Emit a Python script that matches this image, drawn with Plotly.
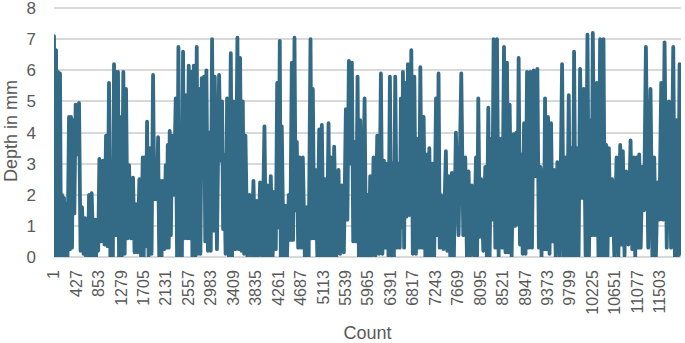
import plotly.graph_objects as go

peak_count = [1,40,77,115,153,191,229,286,324,362,412,476,533,590,628,666,716,780,818,862,931,988,1045,1096,1140,1178,1216,1254,1317,1368,1425,1501,1558,1621,1685,1723,1767,1824,1881,1925,1976,2020,2064,2121,2159,2197,2241,2311,2362,2406,2450,2495,2558,2602,2653,2710,2754,2805,2849,2893,2950,3001,3052,3134,3191,3229,3286,3356,3406,3482,
3533,3584,3634,3710,3786,3849,3912,3995,4052,4115,4185,4236,4286,4324,4388,4457,4514,4565,4609,4660,4723,4799,4869,4913,4964,5034,5084,5147,5211,5255,5318,5400,5464,5540,5597,5654,5705,5762,5812,5895,5951,6002,6065,6135,6205,6262,6319,6376,6426,6477,6540,6585,6623,6668,6718,6782,6839,6902,6953,7016,7080,7124,7181,7251,7299,7344,7438,7489,7552,7628,
7730,7806,7869,7933,8009,8053,8110,8186,8243,8294,8344,8408,8471,8541,8598,8648,8724,8775,8819,8870,8921,8978,9041,9104,9174,9231,9275,9320,9377,9434,9491,9554,9643,9706,9770,9820,9871,9928,9985,10055,10125,10182,10226,10302,10365,10429,10480,10531,10594,10677,10746,10797,10860,10943,11006,11057,11107,11164,11234,11322,11392,11455,11525,11588,11671,11753,11816,11873,11936]

peak_depth = [7.1,6.65,5.95,5.9,2.0,1.9,1.7,4.5,4.5,4.4,4.9,4.95,1.6,1.25,1.2,2.0,2.05,1.2,1.2,3.15,3.1,3.9,5.6,2.1,6.2,5.95,5.95,4.5,5.95,5.4,2.95,2.55,1.7,2.5,3.2,3.2,4.35,3.5,5.85,3.0,3.85,2.45,2.45,2.95,3.6,4.05,3.9,5.1,6.75,3.0,6.6,5.2,6.15,5.95,6.15,6.75,5.4,5.75,5.8,6.0,4.0,7.0,5.8,5.85,5.0,3.3,5.1,6.55,5.0,7.05,
6.4,5.0,3.9,2.0,2.45,1.8,2.4,4.2,2.3,2.6,2.1,5.6,6.95,4.2,1.65,2.0,6.25,7.05,3.7,3.2,3.2,1.6,7.0,5.4,2.8,4.1,4.25,2.5,4.3,3.2,3.55,2.8,2.3,4.75,6.3,6.25,3.7,5.8,4.4,5.1,2.0,2.6,3.2,3.9,5.9,3.1,3.0,5.8,3.0,5.8,3.0,5.1,5.95,5.6,6.2,6.65,5.8,3.8,6.1,4.5,3.3,3.5,3.0,5.1,5.9,2.0,3.4,2.6,2.7,4.0,
5.9,3.2,2.75,2.3,3.2,5.1,2.5,2.9,4.8,3.8,7.0,7.0,3.8,6.75,6.25,4.9,3.95,4.0,6.4,3.3,4.3,5.95,5.95,6.0,6.05,2.9,2.8,5.1,4.5,4.3,2.8,3.05,6.2,3.2,5.2,3.5,6.6,3.5,6.05,5.4,7.15,4.4,7.2,5.6,7.0,7.0,3.6,3.5,2.5,3.2,3.6,3.4,2.75,3.75,3.2,3.2,3.3,2.9,6.75,5.4,3.2,2.4,5.6,6.9,5.0,6.75,4.4,6.2,4.5]

trough_depth = [0.05,0.05,0.05,0,0,0,0,0.25,0.3,1.4,3.3,0.2,0.1,0,0,0,0,0,0.2,0.5,0.4,0.35,0,0,0.7,0.7,0,0,0.1,0.6,0.6,0.15,0.15,0,0,0.35,0,0.1,1.85,1.85,0,0,0.25,0.3,0.3,0.7,2.0,0,0,0,0.6,0.6,0.6,0,0,0.1,0.1,3.9,0.5,0.2,0.2,0.85,0.25,3.1,0.9,0.1,0,0,0.25,0.25,
0.2,0.1,0,0,0,0.05,0,0,0,0,0.25,0.95,0,0,0,0.55,0.55,1.5,0.3,0.3,0,0,0.6,0.6,0,0,0,0,0,0,0,0.1,0.15,1.2,3.0,0.5,0.5,0,0,0,0,0.05,0.05,0.1,0.1,0.3,0.05,0,0,0.3,0.3,0.95,0.3,1.3,1.35,0.1,0.1,0.3,0.3,0,0,0,0,0.7,0.3,0.25,0.2,0,0,0.7,
0.7,0,0.05,0.05,0.05,0.65,0.2,0,0,1.2,0.3,0,0.3,0.15,0.15,0,1.0,1.05,0.4,0.1,0.1,0.3,0.3,2.6,0.3,0,0.25,0.25,0.1,0.5,0,0,0,0,0.05,0.05,0.05,0.05,1.9,0.05,0.05,0.7,0.7,0,0,0.05,0.05,0.7,0,0,0.4,0.05,0.4,0.25,0,0.3,0.3,1.5,0.3,0,0,1.2,1.2,0.3,0.3,0,0.05,0.1]

tick_labels = [1,427,853,1279,1705,2131,2557,2983,3409,3835,4261,4687,5113,5539,5965,6391,6817,7243,7669,8095,8521,8947,9373,9799,10225,10651,11077,11503]
depth_ticks = [0,1,2,3,4,5,6,7,8]

xs, ys = [], []
for i, (c, d) in enumerate(zip(peak_count, peak_depth)):
    xs.append(c)
    ys.append(d)
    if i < len(trough_depth) and i + 1 < len(peak_count):
        xs.append((c + peak_count[i + 1]) / 2)
        ys.append(trough_depth[i])

fig = go.Figure(go.Scatter(x=xs, y=ys, mode="lines", cliponaxis=False,
                           line=dict(color="#336A85", width=3.8)))
GRAY = "#595959"
fig.update_layout(
    width=685, height=343, autosize=False, showlegend=False,
    paper_bgcolor="white", plot_bgcolor="white",
    margin=dict(l=54, r=4, t=5, b=86),
    font=dict(family="Liberation Sans", color=GRAY),
)
fig.update_xaxes(
    title=dict(text="Count", font=dict(size=18, color=GRAY), standoff=19),
    range=[1, 11900], tickmode="array", tickvals=tick_labels,
    ticktext=[str(t) for t in tick_labels], tickangle=-90,
    tickfont=dict(size=16, color=GRAY), showgrid=False, zeroline=False,
    showline=False, ticks="", ticklabelstandoff=9, automargin=False,
)
fig.update_yaxes(
    title=dict(text="Depth in mm", font=dict(size=18, color=GRAY), standoff=4),
    range=[0, 8.1], tickmode="array", tickvals=depth_ticks,
    ticktext=[str(t) for t in depth_ticks], tickfont=dict(size=17, color=GRAY),
    ticklabeloverflow="allow",
    gridcolor="#D9D9D9", gridwidth=1.5, zeroline=True, zerolinecolor="#D9D9D9",
    zerolinewidth=1.5, ticks="", showline=False, ticklabelstandoff=17, automargin=False,
)
post = """
document.body.style.margin='0';
document.querySelectorAll('.js-line').forEach(function(p){p.style.strokeLinejoin='round';p.style.strokeLinecap='round';});
"""
fig.write_html("out.html", post_script=post, config={"displayModeBar": False})
